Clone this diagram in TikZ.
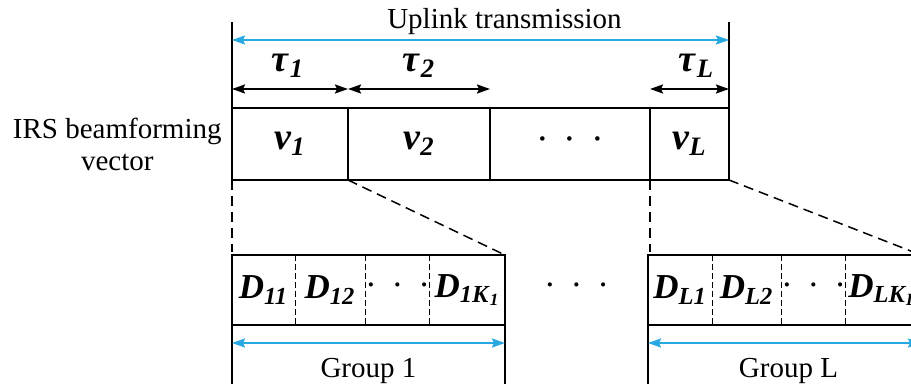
\documentclass[tikz,border=0pt]{standalone}
\usepackage{fontspec}
\setmainfont{Liberation Serif}
\usepackage{xcolor}
\usetikzlibrary{arrows.meta,positioning}
\definecolor{upblue}{RGB}{40,168,224}
\tikzset{
  slot/.style={draw,line width=0.75pt,minimum height=36pt,inner sep=0pt,outer sep=0pt,font=\fontsize{19}{19}\selectfont},
  cell/.style={minimum height=35pt,inner sep=0pt,outer sep=0pt,font=\fontsize{17.5}{17.5}\selectfont},
  span/.style={line width=1pt,{Stealth[length=6.5pt,width=4.5pt,inset=1pt]}-{Stealth[length=6.5pt,width=4.5pt,inset=1pt]}},
  bspan/.style={span,upblue},
  tick/.style={line width=0.75pt},
  zoomln/.style={line width=0.75pt,dash pattern=on 5pt off 3pt},
  sep/.style={line width=0.5pt,dash pattern=on 3pt off 1.5pt},
  lbl/.style={font=\fontsize{14.5}{16}\selectfont,inner sep=0pt,text=black}
}
\newcommand{\sym}[2]{\textbf{\textit{#1}}\textsubscript{\textbf{\textit{#2}}}}
\newcommand{\tridots}{·\hspace{7.5pt}·\hspace{7.5pt}·}

\begin{document}
\begin{tikzpicture}[x=0.5pt,y=-0.5pt]
\clip (0,0) rectangle (911,384);
\node[slot,minimum width=58pt,anchor=north west] (v1) at (232,108) {\sym{v}{1}};
\node[slot,minimum width=71pt,right=0pt of v1] (v2) {\sym{v}{2}};
\node[slot,minimum width=80pt,right=0pt of v2] (vd) {\tridots};
\node[slot,minimum width=39.5pt,right=0pt of vd] (vL) {\sym{v}{L}};
\node[lbl,align=center,left=5pt of v1] (irs) {IRS beamforming\\vector};

\draw[tick] (v1.north west) -- ++(0,-86) coordinate (ul);
\draw[tick] (vL.north east) -- ++(0,-86) coordinate (ur);
\draw[bspan] ([yshift=34pt]v1.north west) -- ([yshift=34pt]vL.north east)
  node[lbl,midway,above=2pt,xshift=12pt] (uplink) {Uplink transmission};
\draw[span] ([yshift=9.5pt]v1.north west) -- ([yshift=9.5pt]v1.north east);
\draw[span] ([yshift=9.5pt]v2.north west) -- ([yshift=9.5pt]v2.north east);
\draw[span] ([yshift=9.5pt]vL.north west) -- ([yshift=9.5pt]vL.north east);
\node[slot,draw=none,minimum height=0pt] (t1) at ([yshift=21pt,xshift=-1pt]v1.north) {\sym{τ}{1}};
\node[slot,draw=none,minimum height=0pt] (t2) at ([yshift=21pt]v2.north) {\sym{τ}{2}};
\node[slot,draw=none,minimum height=0pt] (tL) at ([yshift=21pt,xshift=3.5pt]vL.north) {\sym{τ}{L}};

\node[cell,minimum width=31.5pt,anchor=north west] (d11) at (232,255) {\sym{D}{11}};
\node[cell,minimum width=35pt,right=0pt of d11] (d12) {\sym{D}{12}};
\node[cell,minimum width=31.5pt,right=0pt of d12] (d1d) {\tridots};
\node[cell,minimum width=37.5pt,right=0pt of d1d] (d1k) {\textbf{\textit{D}}\textsubscript{\textbf{\textit{1K}}\textsubscript{\textbf{\textit{1}}}}};
\draw[tick] (d11.north west) rectangle (d1k.south east);
\foreach \c in {d11,d12,d1d} \draw[sep] (\c.north east) -- (\c.south east);

\node[cell,minimum width=32pt,anchor=north west] (dl1) at (648,255) {\sym{D}{L1}};
\node[cell,minimum width=34.5pt,right=0pt of dl1] (dl2) {\sym{D}{L2}};
\node[cell,minimum width=31.5pt,right=0pt of dl2] (dld) {\tridots};
\node[cell,minimum width=37.5pt,right=0pt of dld] (dlk) {\textbf{\textit{D}}\textsubscript{\textbf{\textit{LK}}\textsubscript{\textbf{\textit{L}}}}};
\draw[tick] (dl1.north west) rectangle (dlk.south east);
\foreach \c in {dl1,dl2,dld} \draw[sep] (\c.north east) -- (\c.south east);

\path (d1k.east) -- (dl1.west) node[cell,midway] (gd) {\tridots};

\draw[zoomln] (v1.south west) -- ([yshift=1.5pt]d11.north west);
\draw[zoomln] (v1.south east) -- (d1k.north east);
\draw[zoomln] (vL.south west) -- ([yshift=1.5pt]vL.south west |- dl1.north);
\draw[zoomln] (vL.south east) -- (dlk.north east);

\draw[tick] (d11.south west) -- ++(0,62);
\draw[tick] (d1k.south east) -- ++(0,62);
\draw[tick] (dl1.south west) -- ++(0,62);
\draw[bspan] ([yshift=-9pt]d11.south west) -- ([yshift=-9pt]d1k.south east)
  node[lbl,midway,below=7pt] (g1) {Group 1};
\draw[bspan] ([yshift=-9pt]dl1.south west) -- ([yshift=-9pt]dlk.south east)
  node[lbl,midway,below=7pt,xshift=2pt] (gL) {Group L};
\end{tikzpicture}
\end{document}
